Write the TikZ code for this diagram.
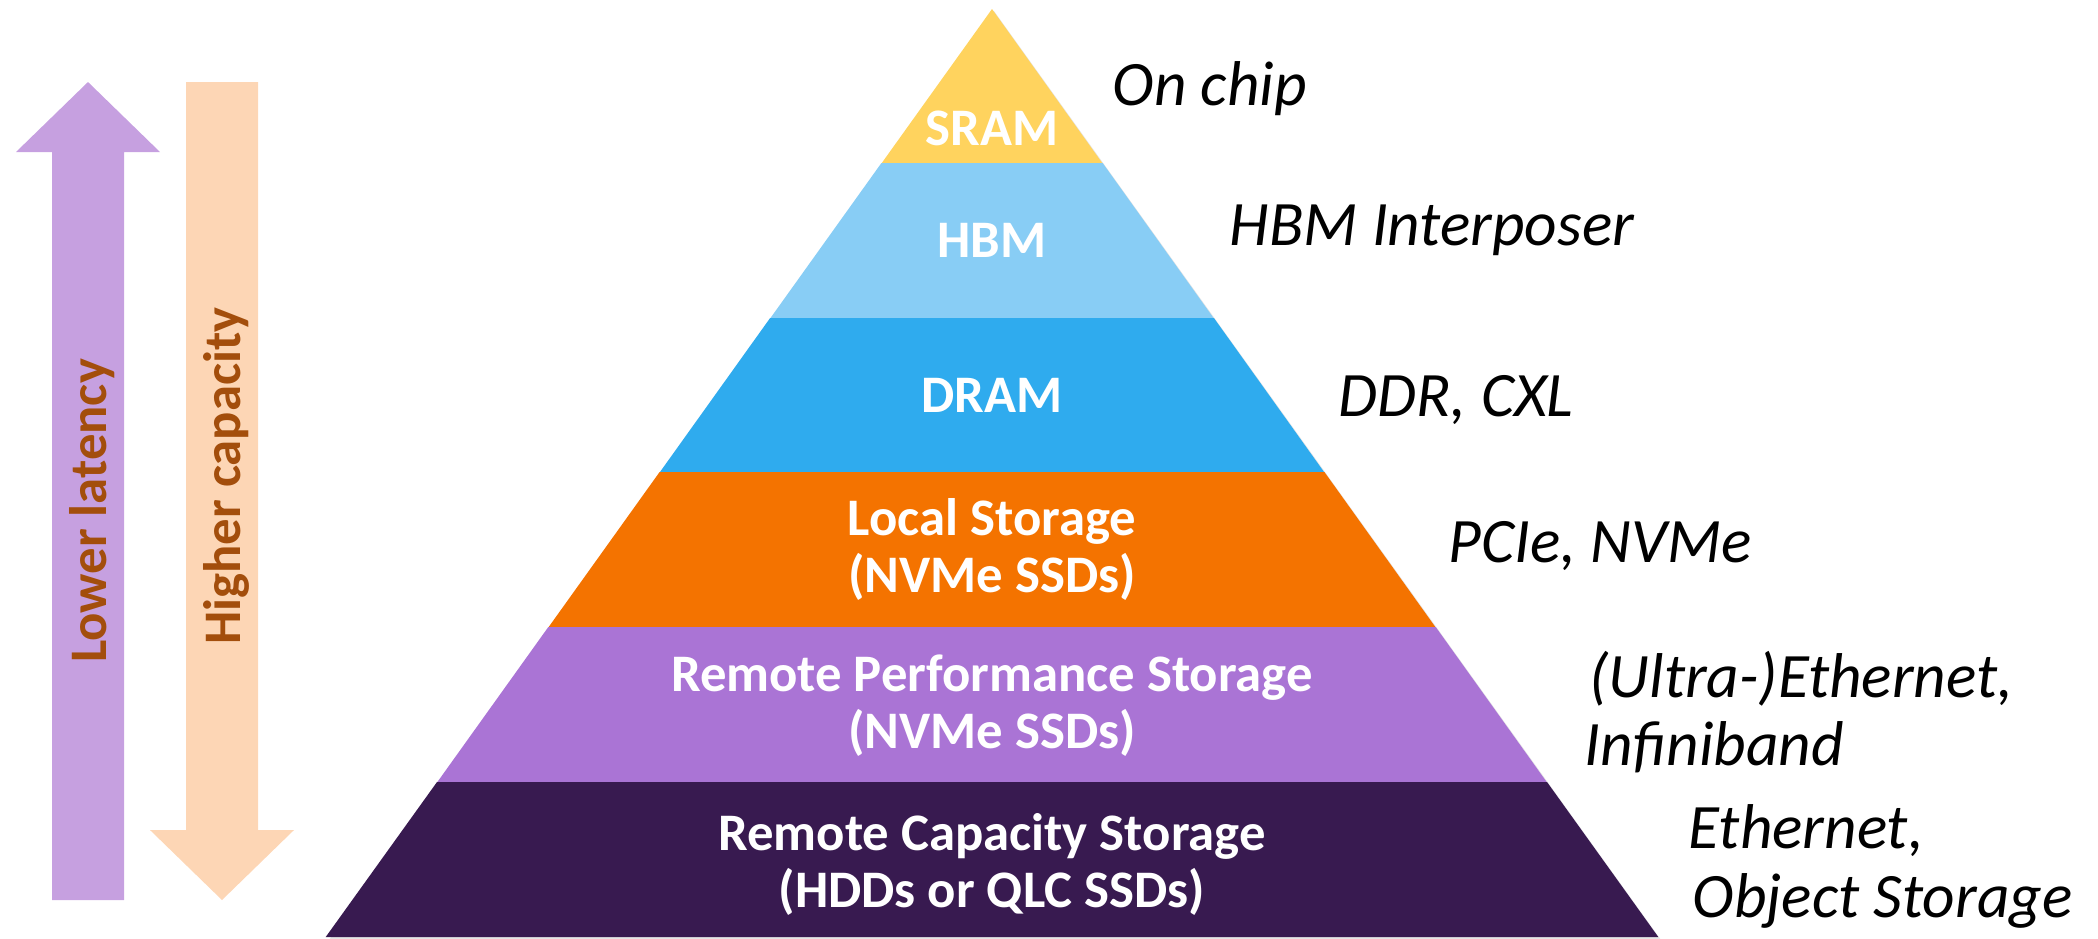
\documentclass[tikz,border=0pt]{standalone}
\usepackage{fontspec}
\setmainfont{Carlito}

\definecolor{sramC}{HTML}{FFD35E}
\definecolor{hbmC}{HTML}{88CDF5}
\definecolor{dramC}{HTML}{2FABEE}
\definecolor{localC}{HTML}{F47300}
\definecolor{perfC}{HTML}{AA74D5}
\definecolor{capC}{HTML}{381A50}
\definecolor{arrowP}{HTML}{C6A0E0}
\definecolor{arrowO}{HTML}{FDD6B5}
\definecolor{labelBrown}{HTML}{A34E0C}

\tikzset{
  layerlabel/.style={text=white, font=\fontsize{15}{16.2}\selectfont\bfseries,
    align=center, inner sep=0pt},
  linklabel/.style={text=black, font=\fontsize{18}{22}\selectfont\itshape,
    inner sep=0pt, anchor=base west},
  arrowlabel/.style={text=labelBrown, font=\fontsize{15}{18}\selectfont\bfseries,
    inner sep=0pt, rotate=90, anchor=base},
}

\begin{document}
\begin{tikzpicture}[x=0.01cm,y=-0.01cm]
\useasboundingbox (0,0) rectangle (2098,938);

% soft shadow along the pyramid edges
\fill[black!10] (994,11) -- (1661,940) -- (329,940) -- cycle;

% pyramid tiers, top to bottom
\fill[sramC]  (992,9) -- (1102.6,163.5) -- (881.4,163.5) -- cycle;
\fill[hbmC]   (881.4,163) -- (1102.6,163) -- (1213.9,318.5) -- (770.1,318.5) -- cycle;
\fill[dramC]  (770.1,318) -- (1213.9,318) -- (1324.4,472.5) -- (659.6,472.5) -- cycle;
\fill[localC] (659.6,472) -- (1324.4,472) -- (1435.7,627.5) -- (548.3,627.5) -- cycle;
\fill[perfC]  (548.3,627) -- (1435.7,627) -- (1547.0,782.5) -- (437.0,782.5) -- cycle;
\fill[capC]   (437.0,782) -- (1547.0,782) -- (1658.3,937) -- (325.7,937) -- cycle;

% tier names (two-line names are placed by the baseline of their last line)
\node[layerlabel, anchor=base] (sram)  at (992,145) {SRAM};
\node[layerlabel, anchor=base] (hbm)   at (992,257) {HBM};
\node[layerlabel, anchor=base] (dram)  at (992,412) {DRAM};
\node[layerlabel, anchor=base] (local) at (992,592) {Local Storage\\(NVMe SSDs)};
\node[layerlabel, anchor=base] (perf)  at (992,748) {Remote Performance Storage\\(NVMe SSDs)};
\node[layerlabel, anchor=base] (cap)   at (992,907) {Remote Capacity Storage\\(HDDs or QLC SSDs)};

% interconnect of each tier
\node[linklabel] (onchip) at (1112,105) {On chip};
\node[linklabel] (interp) at (1229,245) {HBM Interposer};
\node[linklabel] (ddr)    at (1338,416) {DDR, CXL};
\node[linklabel] (pcie)   at (1448,562) {PCIe, NVMe};
\node[linklabel] (ultra)  at (1589,697) {(Ultra-)Ethernet,};
\node[linklabel] (infini) at (1584,765) {Infiniband};
\node[linklabel] (eth)    at (1688,848) {Ethernet,};
\node[linklabel] (obj)    at (1692,917) {Object Storage};

% trend arrows
\fill[arrowP] (88,82) -- (160,152) -- (124,152) -- (124,900) -- (52,900)
  -- (52,152) -- (16,152) -- cycle;
\fill[arrowO] (186,82) -- (258,82) -- (258,830) -- (294,830) -- (222,900)
  -- (150,830) -- (186,830) -- cycle;

\node[arrowlabel] (latency)  at (106,511) {Lower latency};
\node[arrowlabel] (capacity) at (240,476) {Higher capacity};
\end{tikzpicture}
\end{document}
